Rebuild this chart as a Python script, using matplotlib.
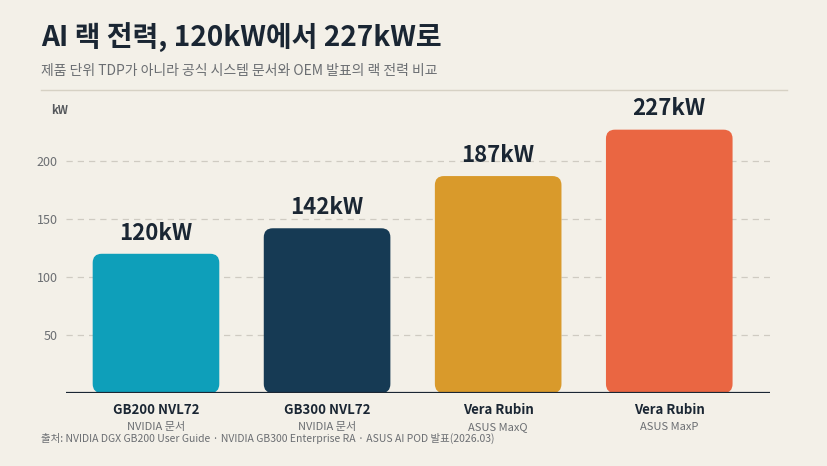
import matplotlib.pyplot as plt
from matplotlib.patches import FancyBboxPatch
from matplotlib.lines import Line2D
import numpy as np

plt.rcParams['font.family'] = ['Noto Sans CJK KR', 'DejaVu Sans']

# 데이터
categories = ['GB200 NVL72', 'GB300 NVL72', 'Vera Rubin', 'Vera Rubin']
sources = ['NVIDIA 문서', 'NVIDIA 문서', 'ASUS MaxQ', 'ASUS MaxP']
power_kw = [120, 142, 187, 227]
colors = ['#0E9FBA', '#163A54', '#D99A2B', '#EA6642']
yticks = [50, 100, 150, 200]

bg = '#F3F0E8'
dark = '#1A2633'
gray = '#6B6E72'

fig = plt.figure(figsize=(8.28, 4.66), dpi=100, facecolor=bg)
ax = fig.add_axes([0.0797, 0.1567, 0.8505, 0.6223])
ax.set_facecolor(bg)

x = np.arange(len(categories))
ax.set_xlim(-0.526, 3.59)
ax.set_ylim(0, 250)

# 둥근 모서리 막대
width = 0.74
bars = ax.bar(x, power_kw, width=width, color='none')
fig.canvas.draw()
px_x = ax.transData.transform((1, 0))[0] - ax.transData.transform((0, 0))[0]
px_y = ax.transData.transform((0, 1))[1] - ax.transData.transform((0, 0))[1]
r = 9 / px_x
aspect = px_x / px_y
for b, c in zip(bars, colors):
    p = FancyBboxPatch((b.get_x(), 0), b.get_width(), b.get_height(),
                       boxstyle=f'round,pad=0,rounding_size={r}',
                       mutation_aspect=aspect, fc=c, ec='none', zorder=3)
    ax.add_patch(p)
    b.remove()

for xi, v in zip(x, power_kw):
    ax.text(xi, v + 8, f'{v}kW', ha='center', va='bottom', fontsize=16,
            fontweight='bold', color=dark, zorder=4)

# 격자
for t in yticks:
    ax.axhline(t, color='#CFCBC2', lw=0.9, ls=(0, (5, 4)), zorder=1)
ax.axhline(0, color=dark, lw=1.6, zorder=4)

ax.set_yticks(yticks)
ax.set_yticklabels([str(t) for t in yticks], fontsize=9, color=gray)
ax.tick_params(axis='y', length=0, pad=6)
ax.set_xticks([])
for s in ax.spines.values():
    s.set_visible(False)

for xi, cat, src in zip(x, categories, sources):
    ax.annotate(cat, (xi, 0), xytext=(0, -12.5), textcoords='offset points',
                ha='center', va='center', fontsize=9.5, fontweight='bold', color=dark)
    ax.annotate(src, (xi, 0), xytext=(0, -24.5), textcoords='offset points',
                ha='center', va='center', fontsize=8, color=gray)

fig.text(51 / 828, 1 - 111 / 466, 'kW', ha='left', va='center', fontsize=8,
         fontweight='bold', color='#55585C')

# 제목
fig.text(41 / 828, 1 - 38 / 466, 'AI 랙 전력, 120kW에서 227kW로', ha='left', va='center',
         fontsize=20.2, fontweight='bold', color=dark)
fig.text(41 / 828, 1 - 71 / 466, '제품 단위 TDP가 아니라 공식 시스템 문서와 OEM 발표의 랙 전력 비교',
         ha='left', va='center', fontsize=10, color=gray)
fig.add_artist(Line2D([41 / 828, 787 / 828], [1 - 90 / 466, 1 - 90 / 466],
                      color='#D6D1C4', lw=1))

fig.text(41 / 828, 1 - 438 / 466,
         '출처: NVIDIA DGX GB200 User Guide · NVIDIA GB300 Enterprise RA · ASUS AI POD 발표(2026.03)',
         ha='left', va='center', fontsize=7.5, color=gray)

fig.savefig('out.png', dpi=100, facecolor=bg)
